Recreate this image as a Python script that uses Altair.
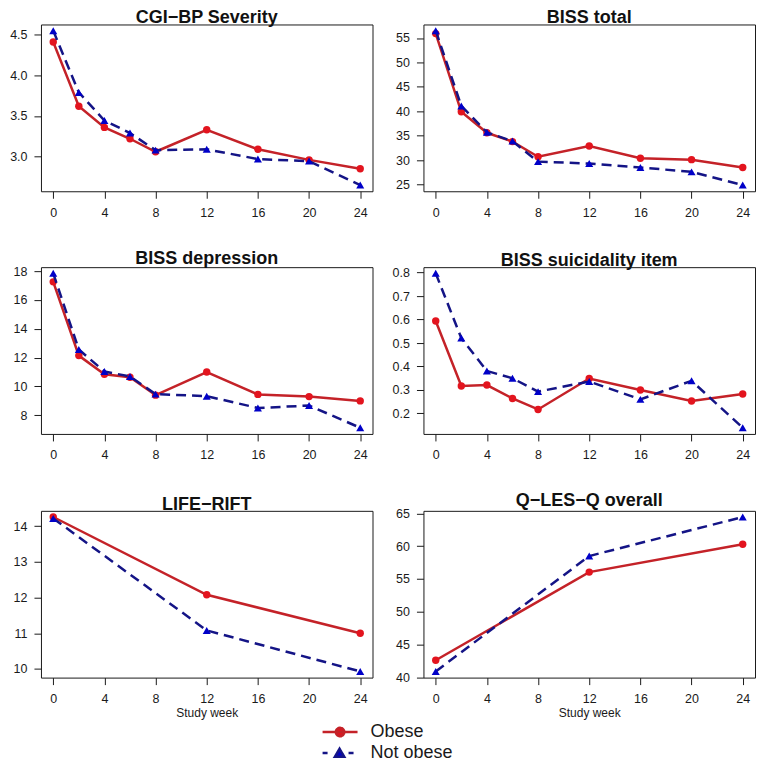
import altair as alt
import pandas as pd

# ---------------- data ----------------
weeks = [0, 2, 4, 6, 8, 12, 16, 20, 24]
weeks_short = [0, 12, 24]
x_ticks = [0, 4, 8, 12, 16, 20, 24]
groups = ["Obese", "Not obese"]

titles = ["CGI−BP Severity", "BISS total", "BISS depression",
          "BISS suicidality item", "LIFE−RIFT", "Q−LES−Q overall"]

cgi_obese = [4.41, 3.62, 3.36, 3.22, 3.06, 3.33, 3.09, 2.96, 2.85]
cgi_not = [4.55, 3.79, 3.445, 3.29, 3.08, 3.09, 2.97, 2.945, 2.65]
cgi_ticks = [3.0, 3.5, 4.0, 4.5]

tot_obese = [55.9, 39.9, 35.6, 33.8, 30.7, 32.9, 30.4, 30.1, 28.5]
tot_not = [56.5, 41.1, 35.7, 33.9, 29.7, 29.3, 28.5, 27.6, 24.9]
tot_ticks = [25, 30, 35, 40, 45, 50, 55]

dep_obese = [17.25, 12.14, 10.85, 10.64, 9.4, 11.0, 9.45, 9.3, 9.0]
dep_not = [17.84, 12.56, 11.04, 10.69, 9.47, 9.33, 8.51, 8.68, 7.14]
dep_ticks = [8, 10, 12, 14, 16, 18]

sui_obese = [0.594, 0.317, 0.321, 0.264, 0.217, 0.349, 0.300, 0.253, 0.283]
sui_not = [0.797, 0.521, 0.381, 0.350, 0.293, 0.336, 0.260, 0.339, 0.139]
sui_ticks = [0.2, 0.3, 0.4, 0.5, 0.6, 0.7, 0.8]

rift_obese = [14.26, 12.08, 11.0]
rift_not = [14.22, 11.08, 9.93]
rift_ticks = [10, 11, 12, 13, 14]

qles_obese = [42.6, 56.05, 60.3]
qles_not = [40.9, 58.5, 64.45]
qles_ticks = [40, 45, 50, 55, 60, 65]

# ---------------- style ----------------
RED_LINE = "#C42228"
RED_PT = "#E3141E"
BLUE_LINE = "#141486"
BLUE_PT = "#0000C8"
FONT = "Liberation Sans"
INK = "#1a1a1a"

PW, PH = 332, 167

red_path = ("M-1.75,0H1.75M0.42,0A0.42,0.42,0,1,1,-0.42,0"
            "A0.42,0.42,0,1,1,0.42,0Z")
blue_path = ("M-1.75,0H-1.25M0.85,0H1.35"
             "M-0.05,-0.42L0.42,0.38L-0.52,0.38Z")

legend = alt.Legend(
    orient="none", legendX=288, legendY=697, direction="vertical",
    title=None, padding=0, symbolSize=400, symbolStrokeWidth=2.5,
    labelFontSize=18, labelFont=FONT, labelColor=INK, labelOffset=19,
    rowPadding=-1, labelLimit=200, symbolDash=[1, 0],
    symbolType=alt.ExprRef(expr=f"datum.value === 'Obese' ? '{red_path}' : '{blue_path}'"),
    symbolFillColor=alt.ExprRef(expr=f"datum.value === 'Obese' ? '{RED_PT}' : '{BLUE_PT}'"),
    symbolOpacity=1,
)

color_enc = alt.Color("group:N",
                      scale=alt.Scale(domain=groups, range=[RED_LINE, BLUE_LINE]),
                      legend=legend)


def panel(title, wk, ob, no, ticks, fmt, xtitle):
    df = pd.DataFrame({
        "week": list(wk) + list(wk),
        "value": list(ob) + list(no),
        "group": [groups[0]] * len(wk) + [groups[1]] * len(wk),
    })
    vals = list(ob) + list(no)
    lo, hi = min(vals), max(vals)
    pad = 0.04 * (hi - lo)
    xpad = 0.04 * (max(weeks) - min(weeks))
    x = alt.X("week:Q",
              scale=alt.Scale(domain=[min(weeks) - xpad, max(weeks) + xpad], nice=False, zero=False),
              axis=alt.Axis(values=x_ticks, title=xtitle, titleFontSize=12,
                            titleFontWeight="normal", titleFont=FONT, titleColor=INK,
                            titlePadding=2, labelPadding=8))
    y = alt.Y("value:Q",
              scale=alt.Scale(domain=[lo - pad, hi + pad], nice=False, zero=False),
              axis=alt.Axis(values=ticks, format=fmt, title=None,
                            minExtent=32, maxExtent=32))
    base = alt.Chart(df).encode(x=x, y=y)
    red = base.transform_filter(alt.datum.group == groups[0])
    blue = base.transform_filter(alt.datum.group == groups[1])
    layers = [
        red.mark_line(strokeWidth=2.5).encode(color=color_enc),
        red.mark_point(filled=True, shape="circle", size=55, opacity=1, color=RED_PT),
        blue.mark_line(strokeWidth=2.5, strokeDash=[10, 6]).encode(color=color_enc),
        blue.mark_point(filled=True, shape="triangle-up", size=65, opacity=1, color=BLUE_PT),
    ]
    return alt.layer(*layers).properties(
        width=PW, height=PH,
        title=alt.TitleParams(title, fontSize=18, font=FONT, fontWeight="bold",
                              anchor="middle", frame="group", offset=-3, color="#111"),
    )


p1 = panel(titles[0], weeks, cgi_obese, cgi_not, cgi_ticks, ".1f", None)
p2 = panel(titles[1], weeks, tot_obese, tot_not, tot_ticks, "d", None)
p3 = panel(titles[2], weeks, dep_obese, dep_not, dep_ticks, "d", None)
p4 = panel(titles[3], weeks, sui_obese, sui_not, sui_ticks, ".1f", None)
p5 = panel(titles[4], weeks_short, rift_obese, rift_not, rift_ticks, "d", "Study week")
p6 = panel(titles[5], weeks_short, qles_obese, qles_not, qles_ticks, "d", "Study week")

chart = alt.vconcat(
    alt.hconcat(p1, p2, spacing=17),
    alt.hconcat(p3, p4, spacing=17),
    alt.hconcat(p5, p6, spacing=17),
    spacing=30,
).resolve_scale(color="shared").resolve_legend(color="shared").properties(
    padding=0
).configure_view(
    stroke=INK, strokeWidth=1
).configure_axis(
    domain=False, grid=False, tickColor=INK, tickSize=7, tickWidth=1,
    labelFont=FONT, labelFontSize=12.5, labelColor=INK, labelPadding=6,
).configure_axisY(labelPadding=7)

chart.save("out.html", embed_options={"renderer": "svg", "actions": False})
